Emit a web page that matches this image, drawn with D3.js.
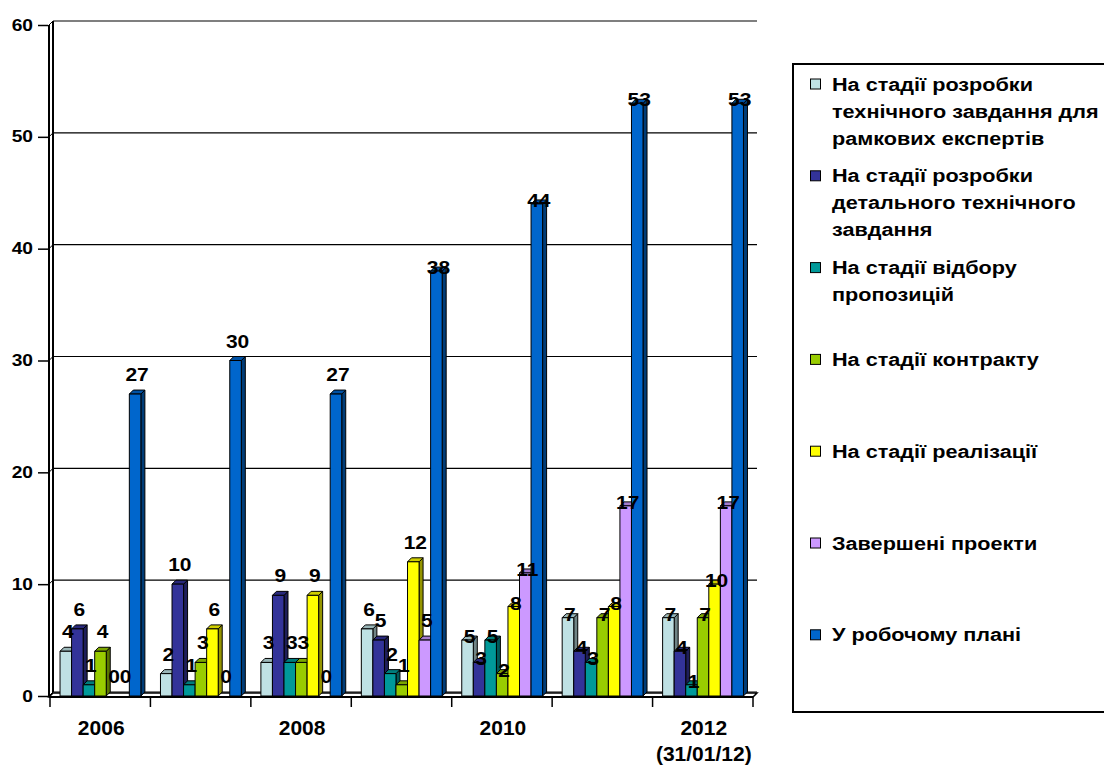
<!DOCTYPE html>
<html>
<head>
<meta charset="utf-8">
<script src="https://cdn.jsdelivr.net/npm/d3@7"></script>
<style>
  html, body { margin: 0; padding: 0; background: #fff; }
  svg { display: block; font-family: "Liberation Sans", Arial, sans-serif; font-weight: bold; }
</style>
</head>
<body>
<svg id="chart" width="1104" height="767"></svg>
<script>
// ---- data ----
const categories = ["2006", "2007", "2008", "2009", "2010", "2011", "2012\n(31/01/12)"];
const categoryLabelShown = [true, false, true, false, true, false, true];
const seriesNames = [
  "На стадії розробки\nтехнічного завдання для\nрамкових експертів",
  "На стадії розробки\nдетального технічного\nзавдання",
  "На стадії відбору\nпропозицій",
  "На стадії контракту",
  "На стадії реалізації",
  "Завершені проекти",
  "У робочому плані"
];
const seriesColors = ["#bfe1e4", "#333399", "#009999", "#99cc00", "#ffff00", "#cc99ff", "#0066cc"];
const sTechExperts   = [4, 2, 3, 6, 5, 7, 7];
const sDetailedTech  = [6, 10, 9, 5, 3, 4, 4];
const sSelection     = [1, 1, 3, 2, 5, 3, 1];
const sContract      = [4, 3, 3, 1, 2, 7, 7];
const sImplementation= [0, 6, 9, 12, 8, 8, 10];
const sCompleted     = [0, 0, 0, 5, 11, 17, 17];
const sWorkPlan      = [27, 30, 27, 38, 44, 53, 53];
const seriesValues = [sTechExperts, sDetailedTech, sSelection, sContract, sImplementation, sCompleted, sWorkPlan];
const yTicks = [0, 10, 20, 30, 40, 50, 60];

// ---- layout ----
const svg = d3.select("#chart");
const depth = 4;
const plotLeft = 49, plotRight = 753, floorY = 696, topY = 25;

const x0 = d3.scaleBand().domain(d3.range(categories.length)).range([plotLeft + 1, plotRight]).paddingInner(0).paddingOuter(0);
const bw = x0.bandwidth();
const x1 = d3.scaleBand().domain(d3.range(seriesValues.length)).range([bw * 0.1, bw * 0.905]).padding(0);
const y = d3.scaleLinear().domain([0, 60]).range([floorY, topY]);

function stretchedText(parent, x, yy, anchor, size, txt, sx) {
  return parent.append("text")
    .attr("transform", `translate(${x},${yy}) scale(${sx},1)`)
    .attr("text-anchor", anchor)
    .attr("font-size", size)
    .attr("fill", "#000")
    .text(txt);
}

// back wall gridlines
const grid = svg.append("g");
yTicks.forEach(t => {
  grid.append("line")
    .attr("x1", plotLeft + depth).attr("x2", plotRight + depth)
    .attr("y1", y(t) - depth).attr("y2", y(t) - depth)
    .attr("stroke", "#000").attr("stroke-width", 1.2);
  grid.append("line")
    .attr("x1", plotLeft).attr("x2", plotLeft + depth)
    .attr("y1", y(t)).attr("y2", y(t) - depth)
    .attr("stroke", "#000").attr("stroke-width", 1);
});
grid.append("line").attr("x1", plotLeft + depth).attr("x2", plotLeft + depth)
  .attr("y1", y(60) - depth).attr("y2", y(0) - depth).attr("stroke", "#000").attr("stroke-width", 2);

// floor
svg.append("path")
  .attr("d", `M${plotLeft},${floorY + 1}L${plotLeft + depth},${floorY - depth + 1}L${plotRight + depth},${floorY - depth + 1}L${plotRight},${floorY + 1}Z`)
  .attr("fill", "#fff").attr("stroke", "#000").attr("stroke-width", 1.5);

// bars
const barsG = svg.append("g");
const w = x1.bandwidth();
categories.forEach((c, ci) => {
  seriesValues.forEach((vals, si) => {
    const v = vals[ci];
    if (v <= 0) return;
    const bx = x0(ci) + x1(si);
    const yt = y(v), yb = y(0);
    const col = d3.color(seriesColors[si]);
    const g = barsG.append("g").attr("stroke", "#000").attr("stroke-width", 1).attr("stroke-linejoin", "round");
    g.append("path")
      .attr("d", `M${bx + w},${yt}L${bx + w + depth},${yt - depth}L${bx + w + depth},${yb - depth}L${bx + w},${yb}Z`)
      .attr("fill", col.darker(1.5).formatHex());
    g.append("path")
      .attr("d", `M${bx},${yt}L${bx + depth},${yt - depth}L${bx + w + depth},${yt - depth}L${bx + w},${yt}Z`)
      .attr("fill", col.darker(0.6).formatHex());
    g.append("rect")
      .attr("x", bx).attr("y", yt).attr("width", w).attr("height", yb - yt)
      .attr("fill", col.formatHex());
  });
});

// front axis line (left)
svg.append("line").attr("x1", plotLeft).attr("x2", plotLeft)
  .attr("y1", y(60)).attr("y2", floorY + 1).attr("stroke", "#000").attr("stroke-width", 2);
// bottom axis line
svg.append("line").attr("x1", plotLeft).attr("x2", plotRight)
  .attr("y1", floorY + 1).attr("y2", floorY + 1).attr("stroke", "#000").attr("stroke-width", 2);

// y axis ticks
const yAxis = d3.axisLeft(y).tickValues(yTicks).tickSize(10).tickSizeOuter(0).tickFormat("");
const yg = svg.append("g").attr("transform", `translate(${plotLeft - 1},0)`).call(yAxis);
yg.select(".domain").remove();
yg.selectAll("line").attr("stroke", "#000").attr("stroke-width", 1.5);
// y labels
const ylab = svg.append("g");
yTicks.forEach(t => stretchedText(ylab, 33, y(t) + 5.5, "end", 16, t, 1.2));

// x axis ticks at category boundaries
const bounds = d3.range(categories.length + 1).map(i => i < categories.length ? x0(i) : x0(i - 1) + bw);
svg.append("g").selectAll("line").data(bounds).join("line")
  .attr("x1", d => d).attr("x2", d => d)
  .attr("y1", floorY + 1).attr("y2", floorY + 11)
  .attr("stroke", "#000").attr("stroke-width", 1.5);

// x labels
categories.forEach((c, ci) => {
  if (!categoryLabelShown[ci]) return;
  const cx = x0(ci) + bw / 2 + 1;
  const t = svg.append("text")
    .attr("x", cx).attr("y", 735)
    .attr("text-anchor", "middle").attr("font-size", 21).attr("fill", "#000");
  c.split("\n").forEach((line, li) => {
    t.append("tspan").attr("x", cx).attr("dy", li === 0 ? 0 : 26).text(line);
  });
});

// data labels
const labG = svg.append("g");
categories.forEach((c, ci) => {
  seriesValues.forEach((vals, si) => {
    const v = vals[ci];
    const cx = x0(ci) + x1(si) + w / 2 + depth / 2;
    const yt = y(v);
    const centered = cx > 430;
    stretchedText(labG, cx, centered ? yt + 3 : yt - 13, "middle", 17.5, v, 1.2);
  });
});

// legend
const lg = svg.append("g");
lg.append("rect").attr("x", 793).attr("y", 64).attr("width", 330).attr("height", 648)
  .attr("fill", "#fff").attr("stroke", "#000").attr("stroke-width", 2);
seriesNames.forEach((name, i) => {
  const cy = 84 + i * 91.8;
  lg.append("rect").attr("x", 810.5).attr("y", cy - 5).attr("width", 10).attr("height", 10)
    .attr("fill", seriesColors[i]).attr("stroke", "#000").attr("stroke-width", 1);
  name.split("\n").forEach((line, li) => {
    stretchedText(lg, 832, cy + 6.5 + li * 27, "start", 18.5, line, 1.17);
  });
});
</script>
</body>
</html>
